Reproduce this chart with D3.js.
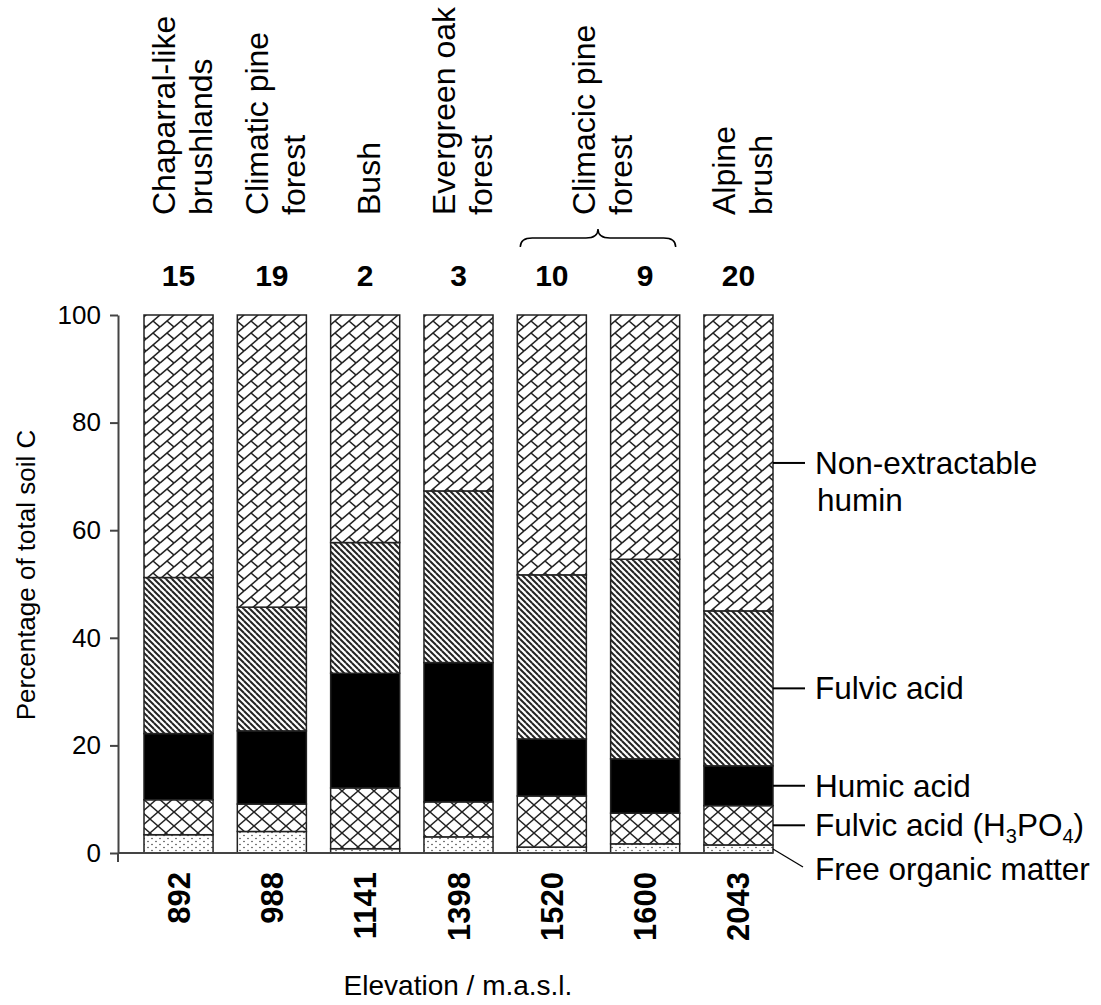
<!DOCTYPE html>
<html>
<head>
<meta charset="utf-8">
<script src="https://cdn.jsdelivr.net/npm/d3@7"></script>
<style>
  body { margin: 0; background: #fff; }
  svg { display: block; font-family: Arial, "Liberation Sans", sans-serif; }
</style>
</head>
<body>
<div id="chart"></div>
<script>
(function () {

  // elevation (m a.s.l.) and sample number of each profile
  const elevations = ["892", "988", "1141", "1398", "1520", "1600", "2043"]
  const sampleIds = ["15", "19", "2", "3", "10", "9", "20"]

  // % of total soil C, from the bottom of the bar to the top
  const freeOrganic = [3.4, 4.0, 0.8, 3.0, 1.1, 1.7, 1.5]
  const fulvicH3PO4 = [6.5, 5.1, 11.3, 6.5, 9.5, 5.7, 7.3]
  const humicAcid = [12.3, 13.6, 21.3, 25.9, 10.6, 10.1, 7.4]
  const fulvicAcid = [29.0, 23.0, 24.3, 31.9, 30.5, 37.1, 28.8]
  const humin = [48.8, 54.3, 42.3, 32.7, 48.3, 45.4, 55.0]

  const fractionKeys = ["free", "fulvicP", "humic", "fulvic", "humin"]

  const yTicks = [0, 20, 40, 60, 80, 100]

  // vegetation over the bars (first and last bar index it covers)
  const vegetation = [
    { lines: ["Chaparral-like", "brushlands"], from: 0, to: 0 },
    { lines: ["Climatic pine", "forest"], from: 1, to: 1 },
    { lines: ["Bush"], from: 2, to: 2 },
    { lines: ["Evergreen oak", "forest"], from: 3, to: 3 },
    { lines: ["Climacic pine", "forest"], from: 4, to: 5 },
    { lines: ["Alpine", "brush"], from: 6, to: 6 }
  ]

  const margin = { top: 315, right: 328, bottom: 152, left: 118 }
  const width = 1101 - margin.left - margin.right
  const height = 1005 - margin.top - margin.bottom

  const svgRoot = d3.select("#chart").append("svg")
      .attr("width", width + margin.left + margin.right)
      .attr("height", height + margin.top + margin.bottom)

  const svg = svgRoot.append("g")
      .attr("transform", "translate(" + margin.left + "," + margin.top + ")")

  // fill patterns
  const defs = svgRoot.append("defs")

  function hatch (id, w, h, segs, strokeWidth) {
    const p = defs.append("pattern")
      .attr("id", id)
      .attr("patternUnits", "userSpaceOnUse")
      .attr("width", w)
      .attr("height", h)
    p.append("rect").attr("width", w).attr("height", h).attr("fill", "#fff")
    // repeat each segment in the neighbour tiles so corners are not cut
    const lines = []
    for (const ox of [-w, 0, w]) {
      for (const oy of [-h, 0, h]) {
        segs.forEach(s => lines.push([s[0] * w + ox, s[1] * h + oy, s[2] * w + ox, s[3] * h + oy]))
      }
    }
    p.selectAll("line")
      .data(lines)
      .join("line")
      .attr("x1", d => d[0]).attr("y1", d => d[1])
      .attr("x2", d => d[2]).attr("y2", d => d[3])
      .attr("stroke", "#222")
      .attr("stroke-width", strokeWidth)
  }

  // diagonal brick
  hatch("p-humin", 14, 12, [[0, 1, 1, 0], [0.5, 0.5, 1, 1]], 1.6)
  // downward diagonal
  hatch("p-fulvic", 6, 6, [[0, 0, 1, 1]], 2)
  // diagonal cross
  hatch("p-fulvicP", 16, 14, [[0, 0, 1, 1], [0, 1, 1, 0]], 1.4)

  const dots = defs.append("pattern")
    .attr("id", "p-free")
    .attr("patternUnits", "userSpaceOnUse")
    .attr("width", 8)
    .attr("height", 6)
  dots.append("rect").attr("width", 8).attr("height", 6).attr("fill", "#fff")
  dots.selectAll("circle")
    .data([[2, 1.5], [6, 4.5]])
    .join("circle")
    .attr("cx", d => d[0])
    .attr("cy", d => d[1])
    .attr("r", 0.8)
    .attr("fill", "#444")

  const fills = {
    free: "url(#p-free)",
    fulvicP: "url(#p-fulvicP)",
    humic: "#000",
    fulvic: "url(#p-fulvic)",
    humin: "url(#p-humin)"
  }

  const rows = elevations.map((e, i) => ({
    elevation: e,
    free: freeOrganic[i],
    fulvicP: fulvicH3PO4[i],
    humic: humicAcid[i],
    fulvic: fulvicAcid[i],
    humin: humin[i]
  }))

  const series = d3.stack().keys(fractionKeys)(rows)

  const xPositionScale = d3.scaleBand()
    .domain(elevations)
    .range([26, width])
    .paddingInner(0.26)
    .paddingOuter(0)

  const yPositionScale = d3.scaleLinear()
    .domain([0, 100])
    .range([height, 0])

  // bars
  svg.selectAll(".layer")
    .data(series)
    .join("g")
    .attr("class", "layer")
    .attr("fill", d => fills[d.key])
    .selectAll("rect")
    .data(d => d)
    .join("rect")
    .attr("x", d => xPositionScale(d.data.elevation))
    .attr("width", xPositionScale.bandwidth())
    .attr("y", d => yPositionScale(d[1]))
    .attr("height", d => yPositionScale(d[0]) - yPositionScale(d[1]))
    .attr("stroke", "#222")
    .attr("stroke-width", 1.5)

  // y axis
  const yAxis = d3.axisLeft(yPositionScale)
    .tickValues(yTicks)
    .tickSize(8)
    .tickSizeOuter(0)
    .tickPadding(9)

  const yAxisG = svg.append("g").call(yAxis)
  yAxisG.select(".domain").attr("stroke", "#444").attr("stroke-width", 2)
  yAxisG.selectAll(".tick line").attr("stroke", "#444").attr("stroke-width", 2)
  yAxisG.selectAll(".tick text")
    .attr("fill", "#000")
    .style("font-size", "26px")
    .style("font-family", "Arial, 'Liberation Sans', sans-serif")

  // x axis line, and the y axis running a little below it
  svg.append("line")
    .attr("x1", 0)
    .attr("x2", xPositionScale(elevations[elevations.length - 1]) + xPositionScale.bandwidth())
    .attr("y1", height)
    .attr("y2", height)
    .attr("stroke", "#444")
    .attr("stroke-width", 2)

  svg.append("line")
    .attr("x1", 0)
    .attr("x2", 0)
    .attr("y1", height)
    .attr("y2", height + 9)
    .attr("stroke", "#444")
    .attr("stroke-width", 2)

  const center = d => xPositionScale(d) + xPositionScale.bandwidth() / 2

  // elevation labels under the bars
  svg.selectAll(".elev")
    .data(elevations)
    .join("text")
    .attr("class", "elev")
    .attr("text-anchor", "end")
    .attr("transform", d => "translate(" + (center(d) + 11) + "," + (height + 19) + ") rotate(-90)")
    .style("font-size", "31px")
    .style("font-weight", "bold")
    .text(d => d)

  // sample numbers over the bars
  svg.selectAll(".sample")
    .data(sampleIds)
    .join("text")
    .attr("class", "sample")
    .attr("text-anchor", "middle")
    .attr("x", (d, i) => center(elevations[i]))
    .attr("y", -29)
    .style("font-size", "30px")
    .style("font-weight", "bold")
    .text(d => d)

  // vegetation labels
  const lineGap = 37
  vegetation.forEach(v => {
    const mid = (center(elevations[v.from]) + center(elevations[v.to])) / 2
    v.lines.forEach((line, i) => {
      const cx = mid + 4 + (i - (v.lines.length - 1) / 2) * lineGap
      svg.append("text")
        .attr("transform", "translate(" + (cx + 11) + "," + (-100) + ") rotate(-90)")
        .attr("text-anchor", "start")
        .style("font-size", "32px")
        .text(line)
    })
    if (v.to > v.from) {
      // brace under a label that covers more than one bar
      const x0 = xPositionScale(elevations[v.from]) + 3
      const x1 = xPositionScale(elevations[v.to]) + xPositionScale.bandwidth() - 4
      const cx = (x0 + x1) / 2
      const yb = -68
      const ym = -77
      const yt = -86
      const r = 12
      svg.append("path")
        .attr("d", "M" + x0 + "," + yb +
          " Q" + x0 + "," + ym + " " + (x0 + r) + "," + ym +
          " L" + (cx - r) + "," + ym +
          " Q" + cx + "," + ym + " " + cx + "," + yt +
          " Q" + cx + "," + ym + " " + (cx + r) + "," + ym +
          " L" + (x1 - r) + "," + ym +
          " Q" + x1 + "," + ym + " " + x1 + "," + yb)
        .attr("fill", "none")
        .attr("stroke", "#000")
        .attr("stroke-width", 1.5)
    }
  })

  // fraction labels, pointing at the last bar
  const lastIndex = elevations.length - 1
  const barRight = xPositionScale(elevations[lastIndex]) + xPositionScale.bandwidth()
  const labelX = barRight + 42

  const midOf = key => {
    const s = series.find(d => d.key === key)[lastIndex]
    return yPositionScale((s[0] + s[1]) / 2)
  }

  const legendFont = "31.5px"

  ;["humin", "fulvic", "humic", "fulvicP"].forEach(key => {
    svg.append("line")
      .attr("x1", barRight)
      .attr("x2", barRight + 32)
      .attr("y1", midOf(key))
      .attr("y2", midOf(key))
      .attr("stroke", "#000")
      .attr("stroke-width", 2)
  })

  svg.append("text")
    .attr("x", labelX).attr("y", midOf("humin")).attr("dy", "0.35em")
    .style("font-size", legendFont)
    .text("Non-extractable")
  svg.append("text")
    .attr("x", labelX + 2).attr("y", midOf("humin") + 37).attr("dy", "0.35em")
    .style("font-size", legendFont)
    .text("humin")

  svg.append("text")
    .attr("x", labelX).attr("y", midOf("fulvic")).attr("dy", "0.35em")
    .style("font-size", legendFont)
    .text("Fulvic acid")

  svg.append("text")
    .attr("x", labelX).attr("y", midOf("humic")).attr("dy", "0.35em")
    .style("font-size", legendFont)
    .text("Humic acid")

  const h3po4 = svg.append("text")
    .attr("x", labelX).attr("y", midOf("fulvicP")).attr("dy", "0.35em")
    .style("font-size", legendFont)
  h3po4.append("tspan").text("Fulvic acid (H")
  h3po4.append("tspan").attr("dy", 7).style("font-size", "20px").text("3")
  h3po4.append("tspan").attr("dy", -7).text("PO")
  h3po4.append("tspan").attr("dy", 7).style("font-size", "20px").text("4")
  h3po4.append("tspan").attr("dy", -7).text(")")

  const freeY = midOf("free")
  svg.append("line")
    .attr("x1", barRight)
    .attr("x2", barRight + 30)
    .attr("y1", freeY)
    .attr("y2", freeY + 18)
    .attr("stroke", "#000")
    .attr("stroke-width", 1.2)
  svg.append("text")
    .attr("x", labelX).attr("y", freeY + 20).attr("dy", "0.35em")
    .style("font-size", legendFont)
    .text("Free organic matter")

  // axis titles
  svgRoot.append("text")
    .attr("transform", "translate(35,575) rotate(-90)")
    .attr("text-anchor", "middle")
    .style("font-size", "26px")
    .text("Percentage of total soil C")

  svgRoot.append("text")
    .attr("x", 458)
    .attr("y", 995)
    .attr("text-anchor", "middle")
    .style("font-size", "28px")
    .text("Elevation / m.a.s.l.")

})();
</script>
</body>
</html>
